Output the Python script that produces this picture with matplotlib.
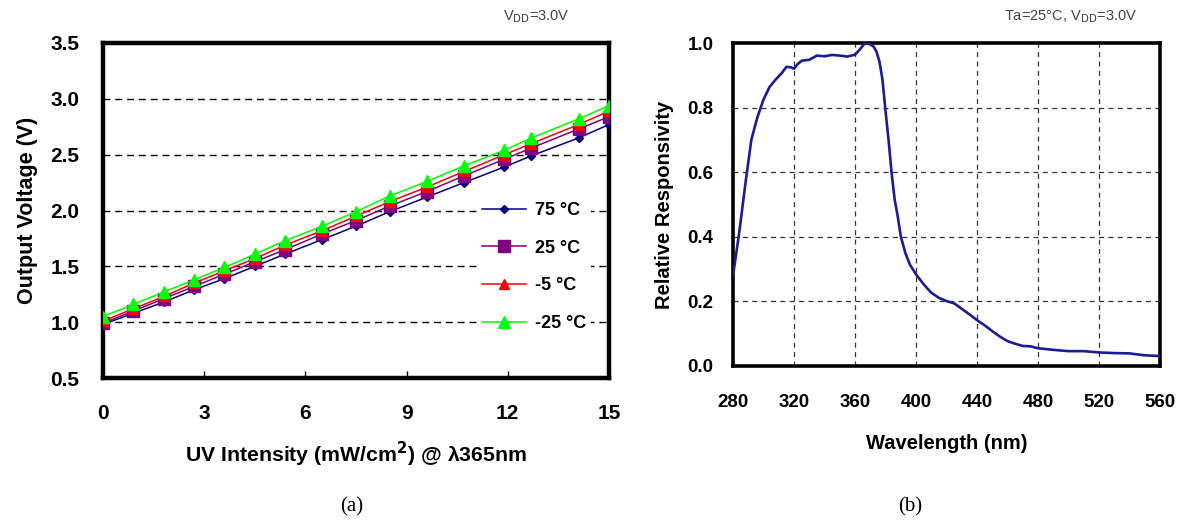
import matplotlib
matplotlib.use("Agg")
import matplotlib.pyplot as plt

# ---------------- data (a) ----------------
uv_intensity = [0, 0.9, 1.8, 2.7, 3.6, 4.5, 5.4, 6.5, 7.5, 8.5, 9.6, 10.7, 11.9, 12.7, 14.1, 15.0]
v_75 = [0.98, 1.08, 1.18, 1.29, 1.39, 1.50, 1.61, 1.74, 1.86, 1.99, 2.12, 2.25, 2.39, 2.49, 2.65, 2.77]
v_25 = [0.99, 1.10, 1.21, 1.32, 1.43, 1.54, 1.65, 1.79, 1.91, 2.04, 2.17, 2.31, 2.46, 2.56, 2.73, 2.84]
v_m5 = [1.01, 1.12, 1.23, 1.35, 1.46, 1.57, 1.69, 1.82, 1.95, 2.08, 2.21, 2.35, 2.50, 2.60, 2.77, 2.89]
v_m25 = [1.05, 1.16, 1.27, 1.38, 1.49, 1.61, 1.73, 1.86, 1.99, 2.13, 2.26, 2.40, 2.54, 2.65, 2.82, 2.94]
series_labels = ["75 °C", "25 °C", "-5 °C", "-25 °C"]
x_ticks_a = [0, 3, 6, 9, 12, 15]
y_ticks_a = [0.5, 1.0, 1.5, 2.0, 2.5, 3.0, 3.5]

# ---------------- data (b) ----------------
wavelength = [280, 284, 288, 292, 296, 300, 304, 308, 312, 315, 318, 320, 322, 325, 330, 335,
              340, 345, 350, 355, 360, 363, 366, 369, 372, 374, 376, 378, 380, 382, 384, 386,
              388, 390, 393, 396, 400, 405, 410, 415, 420, 425, 430, 435, 440, 445, 450, 455,
              460, 465, 470, 475, 480, 490, 500, 510, 520, 530, 540, 550, 560]
responsivity = [0.28, 0.41, 0.56, 0.70, 0.77, 0.825, 0.864, 0.887, 0.907, 0.926, 0.925, 0.92,
                0.933, 0.945, 0.948, 0.961, 0.959, 0.963, 0.961, 0.958, 0.964, 0.979, 0.997,
                0.998, 0.99, 0.974, 0.943, 0.887, 0.79, 0.70, 0.598, 0.515, 0.464, 0.402, 0.35,
                0.314, 0.284, 0.253, 0.227, 0.211, 0.201, 0.194, 0.177, 0.16, 0.142, 0.126,
                0.108, 0.091, 0.077, 0.069, 0.062, 0.061, 0.055, 0.05, 0.046, 0.046, 0.042,
                0.04, 0.039, 0.033, 0.031]
x_ticks_b = [280, 320, 360, 400, 440, 480, 520, 560]
y_ticks_b = [0.0, 0.2, 0.4, 0.6, 0.8, 1.0]

plt.rcParams['font.family'] = ['Liberation Sans', 'DejaVu Sans']

W, H = 1184, 522
fig = plt.figure(figsize=(W / 100, H / 100), dpi=100)

def rect(l, r, t, b):
    return [l / W, 1 - b / H, (r - l) / W, (b - t) / H]

# ---------- panel (a) ----------
ax1 = fig.add_axes(rect(103, 609, 43, 378))
ax1.plot(uv_intensity, v_75, color='#000080', lw=1.1, marker='D', ms=4.5, label=series_labels[0], zorder=3)
ax1.plot(uv_intensity, v_25, color='#800080', lw=1.1, marker='s', ms=9, label=series_labels[1], zorder=3)
ax1.plot(uv_intensity, v_m5, color='#ff0000', lw=1.1, marker='^', ms=7, label=series_labels[2], zorder=4)
ax1.plot(uv_intensity, v_m25, color='#00ff00', lw=1.1, marker='^', ms=8, label=series_labels[3], zorder=5)
ax1.set_xlim(0, 15)
ax1.set_ylim(0.5, 3.5)
ax1.set_xticks(x_ticks_a)
ax1.set_yticks(y_ticks_a)
ax1.set_yticklabels([f"{v:.1f}" for v in y_ticks_a])
for v in y_ticks_a[1:-1]:
    ax1.axhline(v, color='black', lw=1.0, ls=(0, (5, 3.5)), zorder=1)
for s in ax1.spines.values():
    s.set_linewidth(3.2)
ax1.tick_params(axis='x', direction='in', length=5, width=1, pad=19, labelsize=15)
ax1.tick_params(axis='y', length=0, pad=17, labelsize=15)
for lab in ax1.get_xticklabels() + ax1.get_yticklabels():
    lab.set_fontweight('bold')
ax1.set_ylabel("Output Voltage (V)", fontsize=15.5, fontweight='bold', labelpad=9)
ax1.set_xlabel("UV Intensity (mW/cm$^\\mathbf{2}$) @ λ365nm", fontsize=15.3, fontweight='bold', labelpad=12)
leg = ax1.legend(loc='center left', bbox_to_anchor=(468 / W, 1 - 267 / H), bbox_transform=fig.transFigure,
                 frameon=True, framealpha=1, edgecolor='none', facecolor='white',
                 prop={'weight': 'bold', 'size': 13}, labelspacing=1.15, handlelength=2.4,
                 handletextpad=0.5, borderpad=0.3, fancybox=False)
leg.set_zorder(6)
fig.text(536 / W, 1 - 17 / H, "V$_{\\mathrm{DD}}$=3.0V", ha='center', va='center', fontsize=10.5, color='#444444')
fig.text(352 / W, 1 - 507 / H, "(a)", ha='center', va='center', fontsize=15, family='Liberation Serif')

# ---------- panel (b) ----------
ax2 = fig.add_axes(rect(733, 1160, 43, 366))
ax2.plot(wavelength, responsivity, color='#1c1c96', lw=1.9, zorder=3)
ax2.set_xlim(280, 560)
ax2.set_ylim(0, 1.0)
ax2.set_xticks(x_ticks_b)
ax2.set_yticks(y_ticks_b)
ax2.set_yticklabels([f"{v:.1f}" for v in y_ticks_b])
ax2.grid(True, color='#333333', lw=0.9, ls=(0, (4, 3.5)), zorder=1)
for s in ax2.spines.values():
    s.set_linewidth(2.6)
ax2.tick_params(axis='both', length=0, labelsize=13.5)
ax2.tick_params(axis='x', pad=20)
ax2.tick_params(axis='y', pad=14)
for lab in ax2.get_xticklabels() + ax2.get_yticklabels():
    lab.set_fontweight('bold')
ax2.set_ylabel("Relative Responsivity", fontsize=14.5, fontweight='bold', labelpad=10)
ax2.set_xlabel("Wavelength (nm)", fontsize=14.5, fontweight='bold', labelpad=17)
fig.text(1071 / W, 1 - 17 / H, "Ta=25°C, V$_{\\mathrm{DD}}$=3.0V", ha='center', va='center', fontsize=10.5, color='#444444')
fig.text(910 / W, 1 - 507 / H, "(b)", ha='center', va='center', fontsize=15, family='Liberation Serif')

fig.savefig("out.png", dpi=100)
